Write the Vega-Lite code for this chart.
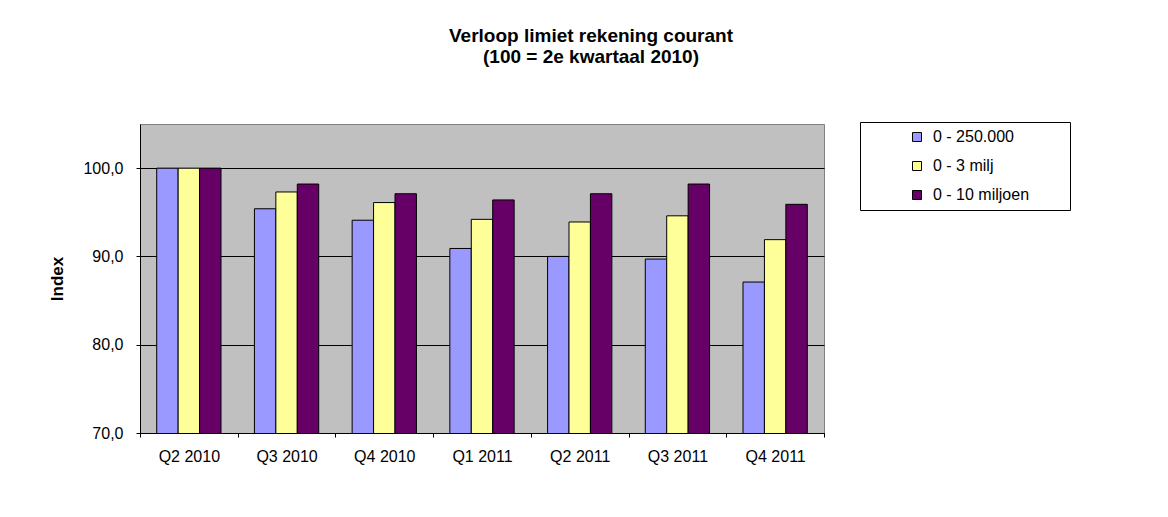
{
  "$schema": "https://vega.github.io/schema/vega-lite/v6.json",
  "width": 684,
  "height": 309,
  "autosize": {"type": "none"},
  "padding": {"left": 140, "top": 124, "right": 344, "bottom": 84},
  "background": "white",
  "title": {
    "text": ["Verloop limiet rekening courant", "(100 = 2e kwartaal 2010)"],
    "font": "Liberation Sans",
    "fontSize": 19,
    "fontWeight": "bold",
    "color": "black",
    "anchor": "middle",
    "frame": "group",
    "dx": 109,
    "offset": 55,
    "lineHeight": 21
  },
  "data": {
    "values": [
      {"kwartaal": "Q2 2010", "serie": "0 - 250.000", "index": 100.0},
      {"kwartaal": "Q2 2010", "serie": "0 - 3 milj", "index": 100.0},
      {"kwartaal": "Q2 2010", "serie": "0 - 10 miljoen", "index": 100.0},
      {"kwartaal": "Q3 2010", "serie": "0 - 250.000", "index": 95.4},
      {"kwartaal": "Q3 2010", "serie": "0 - 3 milj", "index": 97.3},
      {"kwartaal": "Q3 2010", "serie": "0 - 10 miljoen", "index": 98.2},
      {"kwartaal": "Q4 2010", "serie": "0 - 250.000", "index": 94.1},
      {"kwartaal": "Q4 2010", "serie": "0 - 3 milj", "index": 96.1},
      {"kwartaal": "Q4 2010", "serie": "0 - 10 miljoen", "index": 97.1},
      {"kwartaal": "Q1 2011", "serie": "0 - 250.000", "index": 90.9},
      {"kwartaal": "Q1 2011", "serie": "0 - 3 milj", "index": 94.2},
      {"kwartaal": "Q1 2011", "serie": "0 - 10 miljoen", "index": 96.4},
      {"kwartaal": "Q2 2011", "serie": "0 - 250.000", "index": 90.0},
      {"kwartaal": "Q2 2011", "serie": "0 - 3 milj", "index": 93.9},
      {"kwartaal": "Q2 2011", "serie": "0 - 10 miljoen", "index": 97.1},
      {"kwartaal": "Q3 2011", "serie": "0 - 250.000", "index": 89.7},
      {"kwartaal": "Q3 2011", "serie": "0 - 3 milj", "index": 94.6},
      {"kwartaal": "Q3 2011", "serie": "0 - 10 miljoen", "index": 98.2},
      {"kwartaal": "Q4 2011", "serie": "0 - 250.000", "index": 87.1},
      {"kwartaal": "Q4 2011", "serie": "0 - 3 milj", "index": 91.9},
      {"kwartaal": "Q4 2011", "serie": "0 - 10 miljoen", "index": 95.9}
    ]
  },
  "mark": {"type": "bar", "stroke": "black", "strokeWidth": 1, "clip": true},
  "encoding": {
    "x": {
      "field": "kwartaal",
      "type": "nominal",
      "sort": null,
      "scale": {"paddingInner": 0, "paddingOuter": 0},
      "axis": {
        "title": null,
        "labelAngle": 0,
        "labelFont": "Liberation Sans",
        "labelFontSize": 16,
        "labelColor": "black",
        "labelPadding": 11,
        "tickBand": "extent",
        "tickSize": 4,
        "tickColor": "black",
        "domainColor": "black",
        "grid": false
      }
    },
    "xOffset": {
      "field": "serie",
      "type": "nominal",
      "sort": ["0 - 250.000", "0 - 3 milj", "0 - 10 miljoen"],
      "scale": {"paddingInner": 0, "paddingOuter": 0.78}
    },
    "y": {
      "field": "index",
      "type": "quantitative",
      "scale": {"domain": [70, 105], "zero": false, "nice": false},
      "axis": {
        "title": "Index",
        "titleFont": "Liberation Sans",
        "titleFontSize": 17,
        "titleFontWeight": "bold",
        "titleColor": "black",
        "titlePadding": 16,
        "values": [70, 80, 90, 100],
        "labelExpr": "replace(format(datum.value, '.1f'), '.', ',')",
        "labelFont": "Liberation Sans",
        "labelFontSize": 16,
        "labelColor": "black",
        "labelPadding": 13,
        "tickSize": 4,
        "tickColor": "black",
        "domainColor": "black",
        "grid": true,
        "gridColor": "black",
        "gridWidth": 1,
        "gridOpacity": 1
      }
    },
    "color": {
      "field": "serie",
      "type": "nominal",
      "sort": ["0 - 250.000", "0 - 3 milj", "0 - 10 miljoen"],
      "scale": {
        "domain": ["0 - 250.000", "0 - 3 milj", "0 - 10 miljoen"],
        "range": ["#9999FF", "#FFFF99", "#660066"]
      },
      "legend": {
        "title": " ",
        "titleOrient": "right",
        "titlePadding": 34,
        "orient": "none",
        "legendX": 720,
        "legendY": -2,
        "fillColor": "white",
        "strokeColor": "black",
        "padding": 7,
        "symbolType": "square",
        "symbolSize": 81,
        "symbolStrokeColor": "black",
        "symbolStrokeWidth": 1,
        "symbolOffset": 42,
        "labelOffset": 8,
        "labelFont": "Liberation Sans",
        "labelFontSize": 16,
        "labelColor": "black",
        "rowPadding": 13
      }
    }
  },
  "config": {
    "view": {"fill": "#C0C0C0", "stroke": "#808080", "strokeWidth": 1}
  }
}
